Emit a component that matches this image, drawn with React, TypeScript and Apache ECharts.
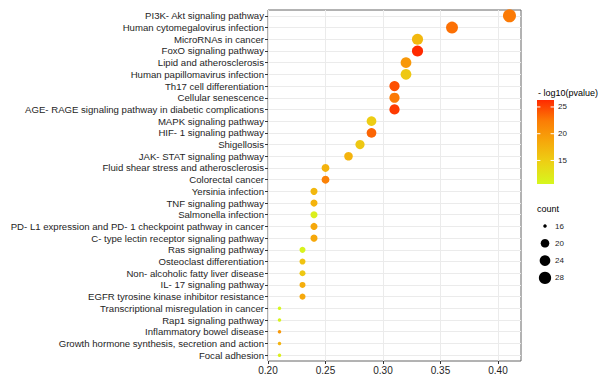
import React, { useEffect, useRef } from "react";
import * as echarts from "echarts";

const pathways = [
  "PI3K- Akt signaling pathway",
  "Human cytomegalovirus infection",
  "MicroRNAs in cancer",
  "FoxO signaling pathway",
  "Lipid and atherosclerosis",
  "Human papillomavirus infection",
  "Th17 cell differentiation",
  "Cellular senescence",
  "AGE- RAGE signaling pathway in diabetic complications",
  "MAPK signaling pathway",
  "HIF- 1 signaling pathway",
  "Shigellosis",
  "JAK- STAT signaling pathway",
  "Fluid shear stress and atherosclerosis",
  "Colorectal cancer",
  "Yersinia infection",
  "TNF signaling pathway",
  "Salmonella infection",
  "PD- L1 expression and PD- 1 checkpoint pathway in cancer",
  "C- type lectin receptor signaling pathway",
  "Ras signaling pathway",
  "Osteoclast differentiation",
  "Non- alcoholic fatty liver disease",
  "IL- 17 signaling pathway",
  "EGFR tyrosine kinase inhibitor resistance",
  "Transcriptional misregulation in cancer",
  "Rap1 signaling pathway",
  "Inflammatory bowel disease",
  "Growth hormone synthesis, secretion and action",
  "Focal adhesion",
];

const geneRatio = [
  0.41, 0.36, 0.33, 0.33, 0.32, 0.32, 0.31, 0.31, 0.31, 0.29, 0.29, 0.28, 0.27,
  0.25, 0.25, 0.24, 0.24, 0.24, 0.24, 0.24, 0.23, 0.23, 0.23, 0.23, 0.23, 0.21,
  0.21, 0.21, 0.21, 0.21,
];

const negLog10P = [
  22.5, 23, 17, 26.3, 20, 15.5, 24.5, 22.5, 25.5, 15, 23.5, 15.5, 17.5, 17.5, 22,
  17, 17.5, 11.5, 18.5, 18.5, 11, 16, 15.5, 18, 18.5, 10.6, 11, 20, 17.5, 11.5,
];

const counts = [
  30, 27, 25, 25, 24, 24, 23, 23, 23, 22, 22, 21, 20, 19, 19, 18, 18, 18, 18, 18,
  17, 17, 17, 17, 17, 16, 16, 16, 16, 16,
];

const xTickValues = [0.2, 0.25, 0.3, 0.35, 0.4];
const colorTickValues = [15, 20, 25];
const countLegendValues = [16, 20, 24, 28];
const colorStops = ["#d6f71e", "#ecd215", "#f6a90b", "#fb7d05", "#ff2a00"];

const FONT = "'Liberation Sans', Arial, sans-serif";
const TEXT = "#1e1e1e";

export default function App() {
  const ref = useRef<HTMLDivElement>(null);

  useEffect(() => {
    if (!ref.current) return;
    const chart = echarts.init(ref.current, undefined, { renderer: "svg" });

    const pMin = Math.min(...negLog10P);
    const pMax = Math.max(...negLog10P);
    const cMin = Math.min(...counts);
    const cMax = Math.max(...counts);
    const sizeOf = (c: number) =>
      3.5 + 9.5 * Math.sqrt(Math.max(0, (c - cMin) / (cMax - cMin)));

    const barX = 537;
    const barTop = 100;
    const barW = 17;
    const barH = 84;
    const yOfP = (v: number) => barTop + ((pMax - v) / (pMax - pMin)) * barH;

    const gradient = new echarts.graphic.LinearGradient(
      0,
      0,
      0,
      1,
      colorStops
        .slice()
        .reverse()
        .map((c, i) => ({ offset: i / (colorStops.length - 1), color: c }))
    );

    const graphics: any[] = [
      {
        type: "text",
        x: 538,
        y: 93,
        style: {
          text: "- log10(pvalue)",
          fill: "#000",
          fontSize: 9,
          fontFamily: FONT,
          align: "left",
          verticalAlign: "middle",
        },
      },
      {
        type: "rect",
        shape: { x: barX, y: barTop, width: barW, height: barH },
        style: { fill: gradient },
      },
    ];
    colorTickValues.forEach((v) => {
      const y = yOfP(v);
      graphics.push(
        {
          type: "line",
          shape: { x1: barX, y1: y, x2: barX + 3.4, y2: y },
          style: { stroke: "#fff", lineWidth: 1 },
        },
        {
          type: "line",
          shape: { x1: barX + barW - 3.4, y1: y, x2: barX + barW, y2: y },
          style: { stroke: "#fff", lineWidth: 1 },
        },
        {
          type: "text",
          x: barX + barW + 4,
          y,
          style: {
            text: String(v),
            fill: TEXT,
            fontSize: 8,
            fontFamily: FONT,
            align: "left",
            verticalAlign: "middle",
          },
        }
      );
    });
    graphics.push({
      type: "text",
      x: 537,
      y: 209,
      style: {
        text: "count",
        fill: "#000",
        fontSize: 9,
        fontFamily: FONT,
        align: "left",
        verticalAlign: "middle",
      },
    });
    countLegendValues.forEach((c, i) => {
      const y = 226 + i * 17.3;
      graphics.push(
        {
          type: "circle",
          shape: { cx: 545, cy: y, r: sizeOf(c) / 2 },
          style: { fill: "#000" },
        },
        {
          type: "text",
          x: 555,
          y,
          style: {
            text: String(c),
            fill: TEXT,
            fontSize: 8,
            fontFamily: FONT,
            align: "left",
            verticalAlign: "middle",
          },
        }
      );
    });

    const option: any = {
      animation: false,
      backgroundColor: "#fff",
      grid: {
        left: 268,
        right: 86,
        top: 10,
        bottom: 12.4,
        show: true,
        borderColor: "#666",
        borderWidth: 1,
        backgroundColor: "transparent",
      },
      xAxis: {
        type: "value",
        min: 0.2,
        max: 0.42,
        interval: 0.025,
        axisLine: { show: false },
        axisTick: {
          show: true,
          customValues: xTickValues,
          length: 3,
          lineStyle: { color: "#333" },
        },
        axisLabel: {
          customValues: xTickValues,
          formatter: (v: number) => v.toFixed(2),
          color: TEXT,
          fontSize: 10,
          fontFamily: FONT,
          margin: 4,
        },
        splitLine: { show: true, lineStyle: { color: "#ebebeb", width: 1 } },
      },
      yAxis: {
        type: "category",
        data: pathways,
        inverse: true,
        boundaryGap: true,
        axisLine: { show: false },
        axisTick: {
          show: true,
          alignWithLabel: true,
          length: 3,
          lineStyle: { color: "#333" },
        },
        axisLabel: {
          color: TEXT,
          fontSize: 9.6,
          fontFamily: FONT,
          margin: 4,
          interval: 0,
        },
        splitLine: {
          show: true,
          alignWithLabel: true,
          interval: 0,
          lineStyle: { color: "#ebebeb", width: 1 },
        },
      },
      visualMap: {
        type: "continuous",
        show: false,
        dimension: 2,
        min: pMin,
        max: pMax,
        seriesIndex: 0,
        inRange: { color: colorStops },
      },
      series: [
        {
          type: "scatter",
          data: pathways.map((p, i) => [geneRatio[i], p, negLog10P[i], counts[i]]),
          encode: { x: 0, y: 1 },
          symbol: "circle",
          symbolSize: (val: any[]) => sizeOf(val[3]),
          itemStyle: { opacity: 1 },
          z: 3,
        },
      ],
      graphic: graphics,
    };

    chart.setOption(option);
    return () => chart.dispose();
  }, []);

  return (
    <div
      ref={ref}
      style={{
        position: "fixed",
        left: 0,
        top: 0,
        width: 607,
        height: 375,
        background: "#fff",
      }}
    />
  );
}
